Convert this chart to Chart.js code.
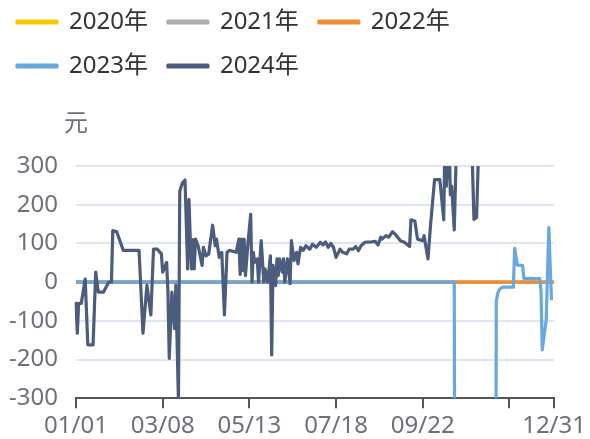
<!DOCTYPE html>
<html>
<head>
<meta charset="utf-8">
<script src="https://cdn.jsdelivr.net/npm/chart.js@4.4.1/dist/chart.umd.min.js"></script>
<style>
  html, body { margin: 0; padding: 0; background: #fff; }
</style>
</head>
<body>
<canvas id="chart" width="590" height="439"></canvas>
<script>
const FONT = '"Noto Sans", "Noto Sans CJK SC", sans-serif';

// categories: every day of a (non-leap) year as MM/DD
const days = [];
for (let d = new Date(2023, 0, 1); d.getFullYear() === 2023; d.setDate(d.getDate() + 1)) {
  days.push(String(d.getMonth() + 1).padStart(2, '0') + '/' + String(d.getDate()).padStart(2, '0'));
}
const tickDays = [0, 66, 132, 198, 264, 330, 364];
const hiddenTickDays = [330];
const yMin = -300, yMax = 300, yStep = 100;
const unitText = '元';

const seriesNames = ['2020年', '2021年', '2022年', '2023年', '2024年'];
const seriesColors = ['#F5C900', '#AEAEAE', '#F08C32', '#67A8E2', '#4B5C7C'];

// [day index, value]
const s2020 = [[0, 0], [364, 0]];
const s2021 = [[0, 0], [364, 0]];
const s2022 = [[0, 0], [364, 0]];
const s2023 = [[0, 0], [288, 0], [289, -1500], [319, -1500], [320, -50], [321, -30], [322, -22], [323, -17],
  [325, -13], [333, -13], [334, 87], [336, 44], [340, 43], [341, 9], [353, 9], [354, -17], [355, -175],
  [358, -98], [360, 141], [362, -47]];
const s2024 = [
  [0, -51], [1, -132], [2, -55], [4, -55], [7, 8], [9, -162], [13, -162], [15, 26], [17, -26], [21, -26],
  [23, -12], [25, 0], [27, 0], [28, 133], [31, 130], [36, 82], [48, 82], [51, -132], [54, -8], [57, -85],
  [59, 85], [62, 85], [65, 73], [66, 26], [69, 51], [70, -26], [71, -197], [73, -26], [75, -120], [76, -8],
  [78, -310], [79, 235], [81, 256], [83, 264], [85, 34], [86, 214], [87, 111], [88, 34], [89, 110], [90, 34],
  [91, 111], [93, 94], [96, 43], [97, 90], [99, 68], [101, 72], [104, 147], [106, 94], [107, 111], [109, 64],
  [111, 77], [113, -85], [115, 77], [117, 82], [122, 77], [124, 111], [125, 20], [126, 111], [127, 30],
  [128, 111], [129, 17], [131, 103], [133, 175], [134, 0], [135, 77], [136, 51], [138, 60], [139, 0],
  [141, 107], [143, 0], [144, 34], [146, 0], [148, 68], [149, -188], [150, 43], [152, -9], [153, 60],
  [154, 17], [155, 60], [157, 26], [158, 60], [159, 0], [161, 60], [163, -4], [164, 107], [166, 56],
  [168, 77], [169, 47], [171, 90], [173, 82], [175, 94], [178, 85], [180, 98], [183, 90], [186, 103],
  [188, 96], [190, 104], [192, 90], [194, 100], [196, 90], [198, 64], [201, 85], [203, 77], [206, 73],
  [208, 85], [211, 85], [213, 92], [215, 81], [217, 94], [220, 103], [225, 104], [228, 105], [230, 96],
  [232, 116], [233, 111], [236, 120], [238, 116], [241, 130], [243, 124], [247, 107], [250, 103], [254, 92],
  [255, 161], [258, 158], [260, 111], [264, 107], [265, 120], [268, 60], [270, 150], [271, 188], [273, 265],
  [277, 265], [280, 161], [281, 400], [282, 248], [284, 400], [285, 226], [286, 248], [288, 135], [290, 400],
  [301, 400], [303, 162], [305, 167], [307, 400]
];
const allSeries = [s2020, s2021, s2022, s2023, s2024];

function toDaily(pairs) {
  const arr = new Array(days.length).fill(null);
  pairs.forEach(([d, v]) => { arr[d] = v; });
  return arr;
}

Chart.defaults.font.family = FONT;
Chart.defaults.font.size = 24;

// extra room between legend and plot
const legendGap = {
  id: 'legendGap',
  beforeInit(chart) {
    const fit = chart.legend.fit;
    chart.legend.fit = function () { fit.call(this); this.height += 78; };
  }
};

const unitLabel = {
  id: 'unitLabel',
  afterDraw(chart) {
    const { ctx, chartArea } = chart;
    ctx.save();
    ctx.font = '24px ' + FONT;
    ctx.fillStyle = '#6E7079';
    ctx.textAlign = 'center';
    ctx.textBaseline = 'middle';
    ctx.fillText(unitText, chartArea.left, chartArea.top - 42);
    ctx.restore();
  }
};

new Chart(document.getElementById('chart'), {
  type: 'line',
  data: {
    labels: days,
    datasets: seriesNames.map((name, i) => ({
      label: name,
      data: toDaily(allSeries[i]),
      borderColor: seriesColors[i],
      backgroundColor: seriesColors[i],
      borderWidth: 3.2,
      borderJoinStyle: 'round',
      pointRadius: 0,
      tension: 0,
      spanGaps: true,
      order: seriesNames.length - i
    }))
  },
  options: {
    responsive: false,
    animation: false,
    layout: { padding: { top: -10, left: -3, right: 32, bottom: -6 } },
    plugins: {
      legend: {
        align: 'start',
        labels: {
          boxWidth: 40,
          boxHeight: 2,
          padding: 20,
          color: '#333',
          font: { size: 24 },
          sort: (a, b) => a.datasetIndex - b.datasetIndex
        }
      },
      tooltip: { enabled: false }
    },
    scales: {
      x: {
        offset: false,
        afterBuildTicks: (scale) => {
          scale.ticks = scale.ticks.filter(t => tickDays.includes(t.value));
        },
        ticks: {
          autoSkip: false,
          maxRotation: 0,
          padding: 4,
          color: '#6E7079',
          font: { size: 24 },
          callback: function (val) {
            return hiddenTickDays.includes(val) ? '' : this.getLabelForValue(val);
          }
        },
        grid: { drawOnChartArea: false, drawTicks: true, tickLength: 10, color: '#555', lineWidth: 2 },
        border: { display: true, color: '#555', width: 2 }
      },
      y: {
        min: yMin,
        max: yMax,
        afterFit: (scale) => { scale.width = 79; },
        ticks: { stepSize: yStep, padding: 18, color: '#6E7079', font: { size: 24 } },
        grid: { color: '#E0E6F1', lineWidth: 2, drawTicks: false },
        border: { display: false }
      }
    }
  },
  plugins: [legendGap, unitLabel]
});
</script>
</body>
</html>
